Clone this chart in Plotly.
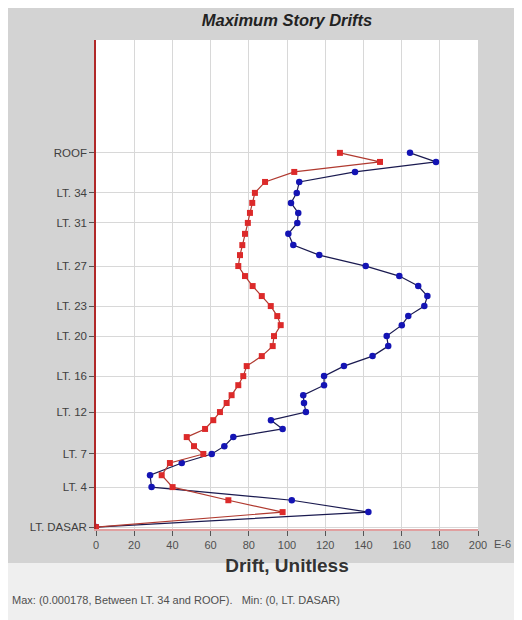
import plotly.graph_objects as go

# story elevations (m) for every plotted level, top to bottom
elev = [119.7, 116.8, 113.6, 110.4, 106.9, 103.7, 100.5, 97.3, 93.8, 90.2,
        87.0, 83.5, 80.3, 77.1, 73.9, 70.7, 67.5, 64.6, 61.1, 57.9,
        54.7, 51.5, 48.3, 45.4, 42.2, 39.7, 36.8, 34.2, 31.4, 28.8,
        25.9, 23.4, 20.5, 16.6, 12.8, 8.6, 4.8, 0.0]

# drift (E-6) per level
drift_red = [127.7, 148.7, 103.8, 88.5, 83.2, 81.8, 80.6, 79.5, 78.0, 76.6,
             75.4, 74.5, 78.0, 82.0, 86.8, 91.5, 94.9, 96.7, 93.2, 92.5,
             86.8, 78.9, 77.1, 74.5, 71.0, 68.4, 64.9, 61.4, 57.1, 47.5,
             51.3, 56.2, 38.7, 34.4, 40.1, 69.3, 97.7, 0.0]
drift_blue = [164.4, 178.0, 135.6, 106.4, 105.1, 102.1, 105.9, 105.4, 100.7, 103.3,
              116.9, 141.2, 158.8, 168.7, 173.5, 171.9, 163.5, 160.1, 152.2, 153.0,
              144.8, 129.8, 119.4, 119.4, 108.5, 108.9, 109.9, 91.6, 97.7, 71.9,
              67.2, 60.6, 44.9, 28.3, 29.1, 102.5, 142.6, 0.0]

story_ticks = [119.7, 106.9, 97.3, 83.5, 70.7, 61.1, 48.3, 36.8, 23.4, 12.8, 0.0]
story_labels = ["ROOF", "LT. 34", "LT. 31", "LT. 27", "LT. 23", "LT. 20",
                "LT. 16", "LT. 12", "LT. 7", "LT. 4", "LT. DASAR"]

x_ticks = [0, 20, 40, 60, 80, 100, 120, 140, 160, 180, 200]

font = "Liberation Sans, Arial, sans-serif"

fig = go.Figure()
fig.add_trace(go.Scatter(
    x=drift_blue, y=elev, mode="lines+markers",
    line=dict(color="#1a1a50", width=1.2),
    marker=dict(symbol="circle", size=6.5, color="#1414b4"),
    showlegend=False,
))
fig.add_trace(go.Scatter(
    x=drift_red, y=elev, mode="lines+markers",
    line=dict(color="#b03a30", width=1.2),
    marker=dict(symbol="square", size=6, color="#dc2a2a"),
    showlegend=False,
))

# footer band and white right edge
fig.add_shape(type="rect", xref="paper", yref="paper", x0=-0.3, x1=1.097,
              y0=-0.25, y1=-0.0695, fillcolor="#efefef", line=dict(width=0), layer="below")
fig.add_shape(type="rect", xref="paper", yref="paper", x0=1.097, x1=1.2,
              y0=-0.25, y1=1.2, fillcolor="white", line=dict(width=0), layer="below")

fig.add_annotation(text="E-6", xref="paper", yref="paper", x=1.036, y=-0.015,
                   xanchor="left", yanchor="top", showarrow=False,
                   font=dict(family=font, size=11, color="#505050"))
fig.add_annotation(text="Max: (0.000178, Between LT. 34 and ROOF).   Min: (0, LT. DASAR)",
                   xref="paper", yref="paper", x=-0.225, y=-0.145,
                   xanchor="left", yanchor="middle", showarrow=False,
                   font=dict(family=font, size=11, color="#505050"))

fig.update_layout(
    width=522, height=620,
    margin=dict(l=88, r=52, t=32, b=99),
    paper_bgcolor="#d3d3d3",
    plot_bgcolor="white",
    title=dict(text="<b><i>Maximum Story Drifts</i></b>", x=0.5, xref="paper",
               y=0.981, yanchor="middle",
               font=dict(family=font, size=16.5, color="#222222")),
    xaxis=dict(
        range=[0, 200], tickvals=x_ticks, ticks="outside", ticklen=5,
        tickcolor="#555555", showgrid=True, gridcolor="#d8d8d8", gridwidth=1,
        showline=True, linecolor="#e0a0a0", linewidth=2, zeroline=False,
        tickfont=dict(family=font, size=11, color="#505050"),
        title=dict(text="<b>Drift, Unitless</b>", standoff=8,
                   font=dict(family=font, size=19, color="#333333")),
    ),
    yaxis=dict(
        range=[-0.6, 155.8], tickvals=story_ticks, ticktext=story_labels,
        ticks="outside", ticklen=5, tickcolor="#555555",
        showgrid=True, gridcolor="#d8d8d8", gridwidth=1,
        showline=True, linecolor="#b02828", linewidth=1.5, zeroline=False,
        tickfont=dict(family=font, size=11.5, color="#404040"),
    ),
)

fig.write_html("out.html")
